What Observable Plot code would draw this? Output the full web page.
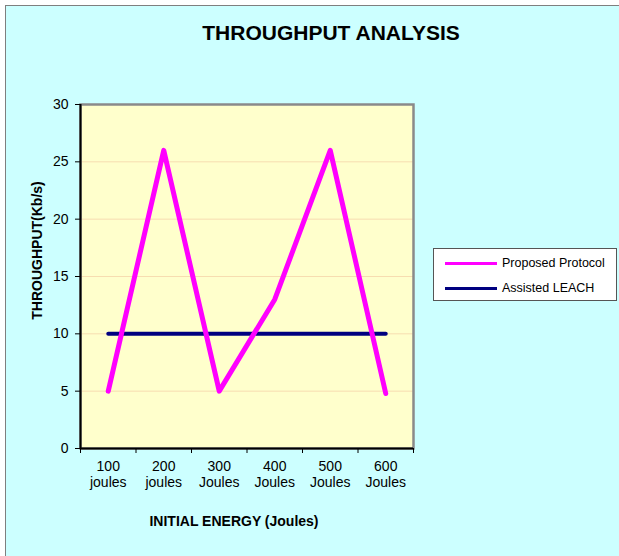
<!DOCTYPE html>
<html>
<head>
<meta charset="utf-8">
<script src="https://cdn.jsdelivr.net/npm/d3@7"></script>
<script src="https://cdn.jsdelivr.net/npm/@observablehq/plot@0.6"></script>
<style>
  html, body { margin: 0; padding: 0; background: #ffffff; overflow: hidden; }
  #wrap { position: relative; width: 619px; height: 556px; overflow: hidden; font-family: "Liberation Sans", Arial, sans-serif; }
  #bg { position: absolute; left: 5px; top: 5px; width: 700px; height: 700px; border: 1px solid #7f7f7f; background: #CCFFFF; }
  #title { position: absolute; left: 0; width: 662px; top: 22px; text-align: center; font-weight: bold; font-size: 21px; line-height: 21px; color: #000; }
  #chart { position: absolute; left: 0; top: 0; }
  #legend { position: absolute; left: 433px; top: 248px; width: 182px; height: 51px; border: 1px solid #555; background: #fff; }
  .lg-row { position: absolute; left: 0; height: 14px; }
  .lg-line { position: absolute; left: 11px; width: 52px; height: 3px; }
  .lg-text { position: absolute; left: 68px; top: 0; font-size: 12.5px; line-height: 14px; white-space: nowrap; color: #000; }
</style>
</head>
<body>
<div id="wrap">
  <div id="bg"></div>
  <div id="chart"></div>
  <div id="title"></div>
  <div id="legend"></div>
</div>
<script>
// ---- data ----
const energyLabels = ["100\njoules", "200\njoules", "300\nJoules", "400\nJoules", "500\nJoules", "600\nJoules"];
const proposedProtocol = [5, 26, 5, 13, 26, 4.8];
const assistedLeach = [10, 10, 10, 10, 10, 10];
const yTicks = [0, 5, 10, 15, 20, 25, 30];
const seriesNames = ["Proposed Protocol", "Assisted LEACH"];
const seriesColors = ["#FF00FF", "#000080"];
const titleText = "THROUGHPUT ANALYSIS";
const xTitle = "INITIAL ENERGY (Joules)";
const yTitle = "THROUGHPUT(Kb/s)";

const rows = energyLabels.map((label, i) => ({
  pos: i + 1, label, proposed: proposedProtocol[i], leach: assistedLeach[i]
}));
const edges = d3.range(0, energyLabels.length + 1).map(k => k + 0.5);

document.getElementById("title").textContent = titleText;

const plot = Plot.plot({
  width: 619,
  height: 556,
  marginLeft: 80,
  marginRight: 206,
  marginTop: 104,
  marginBottom: 108,
  style: { background: "transparent", fontFamily: "'Liberation Sans', Arial, sans-serif", fontSize: "14px", color: "#000", overflow: "visible" },
  x: { type: "linear", domain: [0.5, energyLabels.length + 0.5] },
  y: { domain: [0, 30] },
  marks: [
    Plot.frame({ fill: "#FFFFCC" }),
    Plot.gridY({ ticks: yTicks.filter(t => t > 0 && t < 30), stroke: "#F7DDB0", strokeOpacity: 1, strokeWidth: 1 }),
    Plot.frame({ stroke: "#8a8a8a", strokeWidth: 2.5 }),
    Plot.ruleX([0.5], { stroke: "#000", strokeWidth: 2 }),
    Plot.ruleY([0], { stroke: "#000", strokeWidth: 2 }),
    Plot.axisY({ ticks: yTicks, tickSize: 5, tickPadding: 7, label: null, fontSize: 14, stroke: "#000" }),
    Plot.axisX({ ticks: edges, tickSize: 5, tickFormat: () => "", label: null, stroke: "#000" }),
    Plot.text(rows, { x: "pos", text: "label", frameAnchor: "bottom", lineAnchor: "top", dy: 10, lineHeight: 1.21, fontSize: 14, fill: "#000" }),
    Plot.line(rows, { x: "pos", y: "leach", stroke: seriesColors[1], strokeWidth: 4, strokeLinecap: "round", strokeLinejoin: "round" }),
    Plot.line(rows, { x: "pos", y: "proposed", stroke: seriesColors[0], strokeWidth: 5, strokeLinecap: "round", strokeLinejoin: "round" }),
    Plot.text([xTitle], { text: d => d, frameAnchor: "bottom", textAnchor: "middle", lineAnchor: "bottom", dx: -13, dy: 77, fontSize: 14, fontWeight: "bold", fill: "#000" }),
    Plot.text([yTitle], { text: d => d, frameAnchor: "left", textAnchor: "middle", rotate: -90, lineAnchor: "middle", dx: -42.5, dy: -26, fontSize: 14, fontWeight: "bold", fill: "#000" })
  ]
});
document.getElementById("chart").appendChild(plot);

// legend
const legend = document.getElementById("legend");
const rowTops = [7, 32];
seriesNames.forEach((name, i) => {
  const row = document.createElement("div");
  row.className = "lg-row";
  row.style.top = rowTops[i] + "px";
  const ln = document.createElement("div");
  ln.className = "lg-line";
  ln.style.top = "6px";
  ln.style.background = seriesColors[i];
  const tx = document.createElement("div");
  tx.className = "lg-text";
  tx.textContent = name;
  row.appendChild(ln);
  row.appendChild(tx);
  legend.appendChild(row);
});
</script>
</body>
</html>
